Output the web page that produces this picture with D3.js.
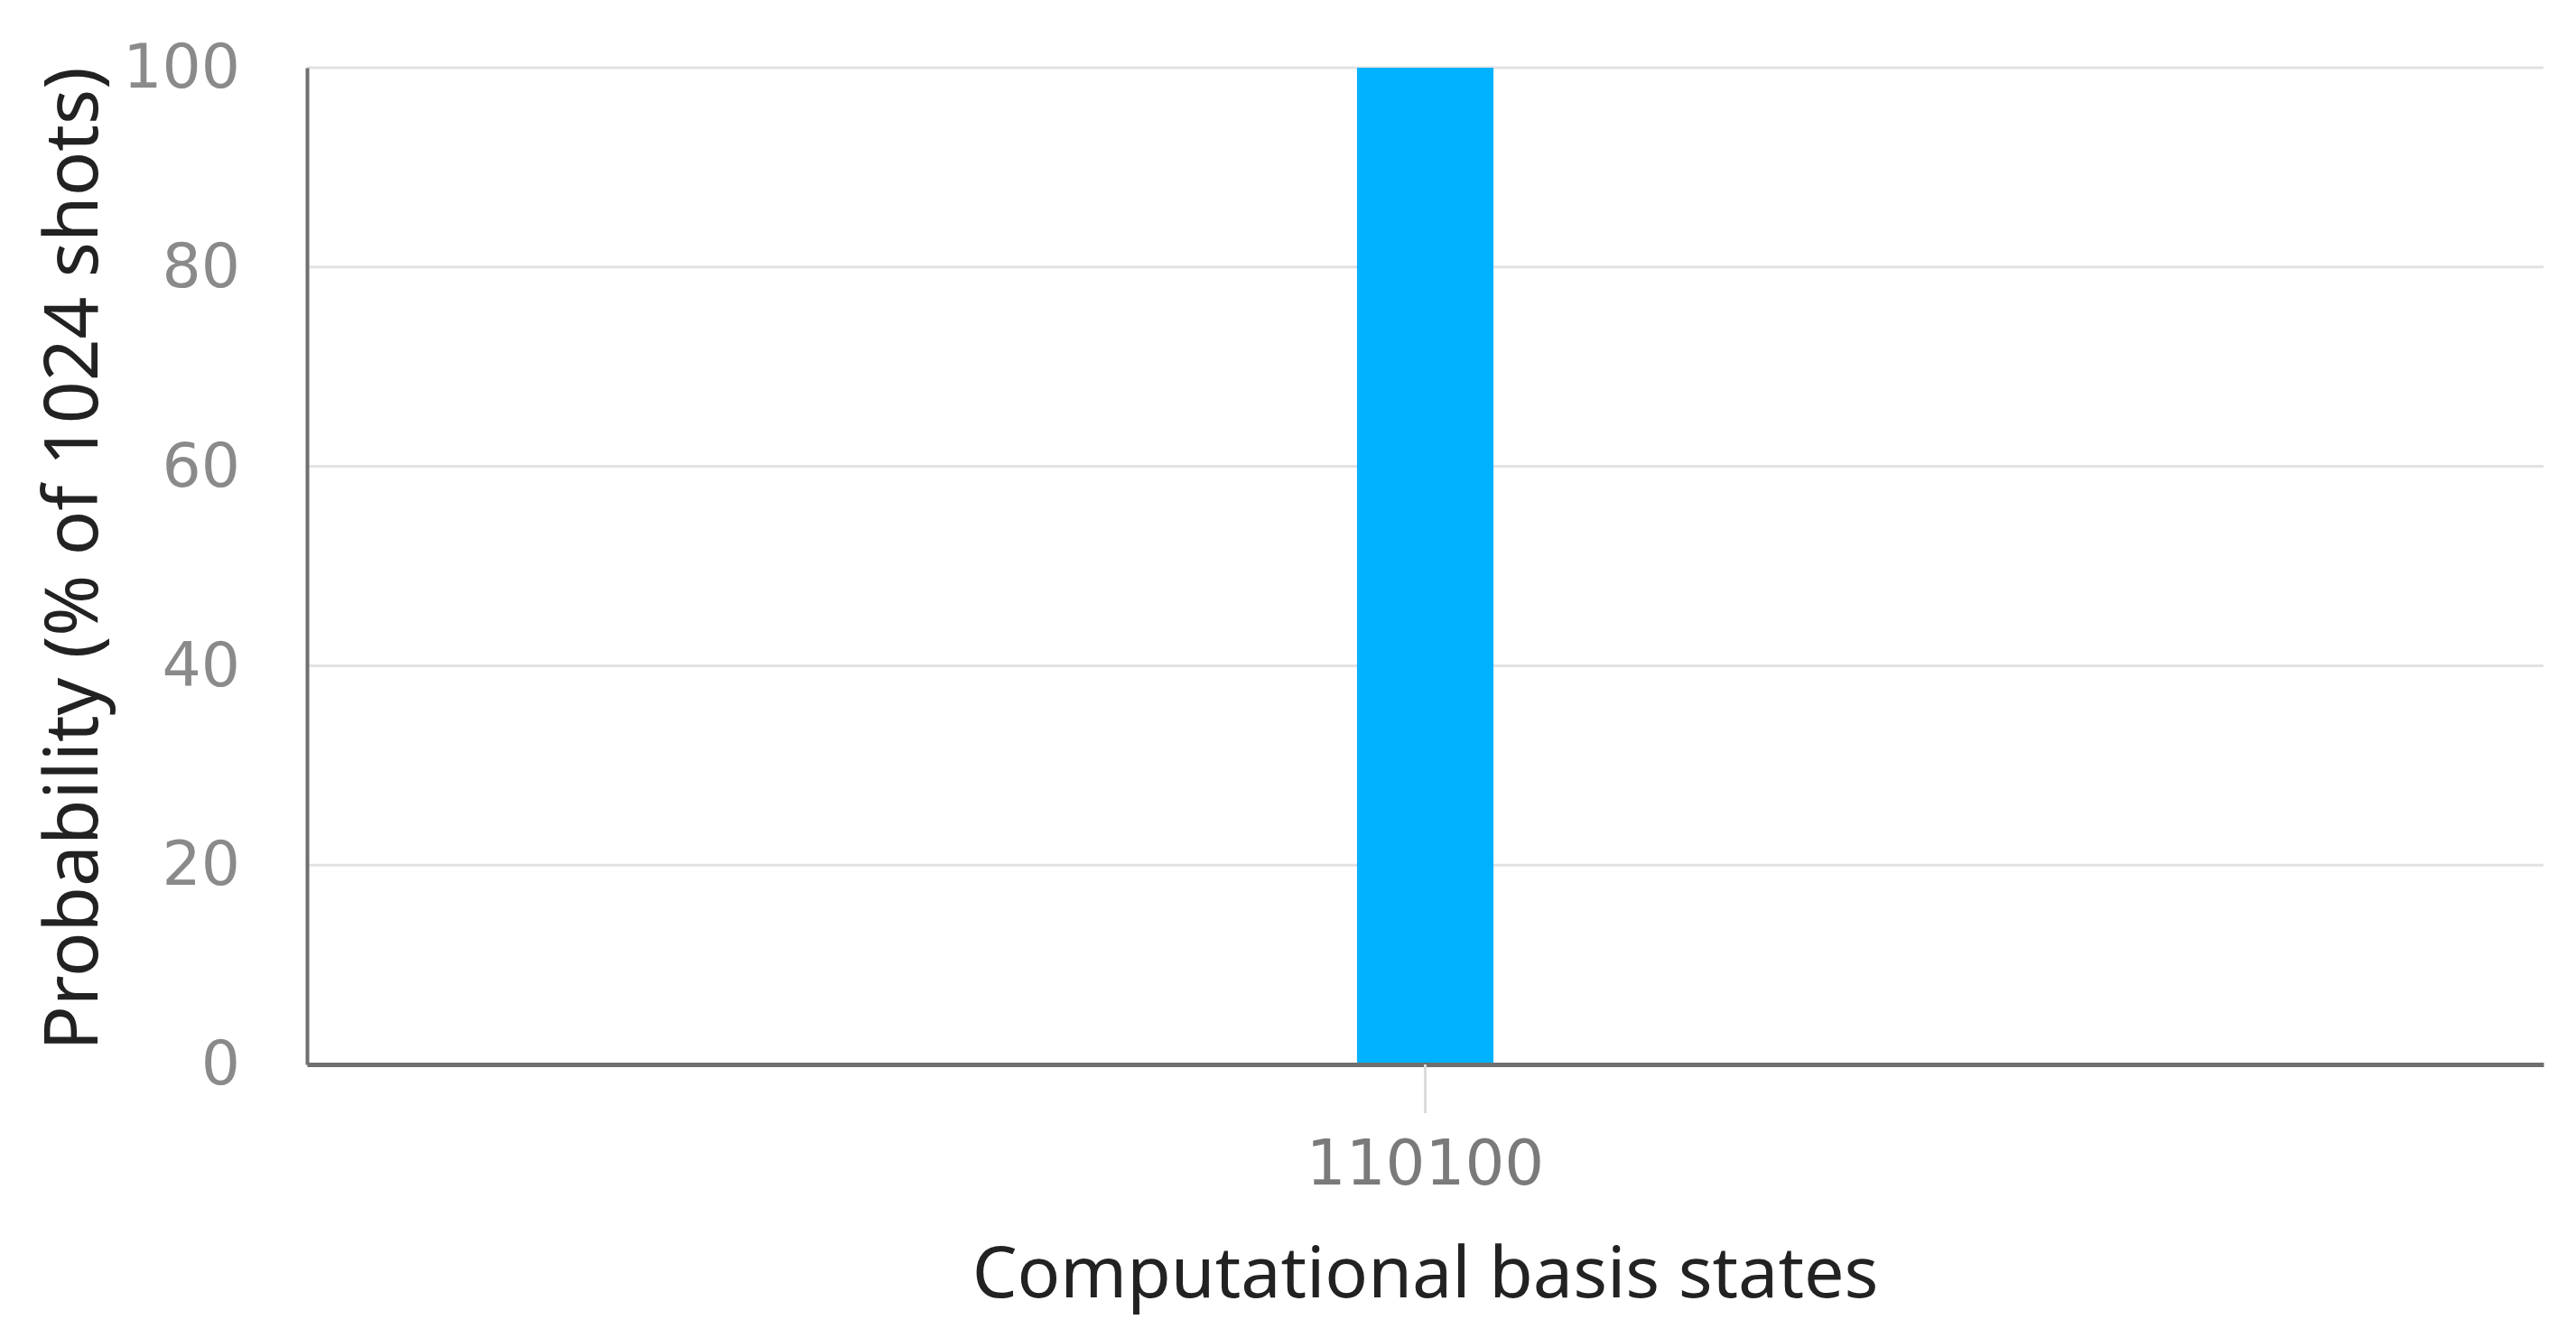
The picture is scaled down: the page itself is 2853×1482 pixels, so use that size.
<!DOCTYPE html>
<html>
<head>
<meta charset="utf-8">
<script src="https://cdn.jsdelivr.net/npm/d3@7"></script>
<style>
  html, body { margin: 0; padding: 0; background: #fff; }
  svg { display: block; font-family: "Noto Sans", "Open Sans", sans-serif; }
</style>
</head>
<body>
<div id="chart"></div>
<script>
'use strict';

// data
const states = ["110100"];
const probs = [100];
const yTicks = [0, 20, 40, 60, 80, 100];
const xTitle = "Computational basis states";
const yTitle = "Probability (% of 1024 shots)";

const width = 2853;
const height = 1482;
const margin = {top: 75, right: 36, bottom: 303, left: 340};

const svg = d3.select("#chart").append("svg")
  .attr("width", width)
  .attr("height", height);

const x = d3.scaleBand()
  .domain(states)
  .range([margin.left, width - margin.right])
  .padding(0.885);

const y = d3.scaleLinear()
  .domain([0, 100])
  .range([height - margin.bottom, margin.top]);

// grid lines
svg.append("g")
  .selectAll("line")
  .data(yTicks.filter(function(d) { return d > 0; }))
  .enter().append("line")
  .attr("x1", margin.left)
  .attr("x2", width - margin.right)
  .attr("y1", function(d) { return y(d); })
  .attr("y2", function(d) { return y(d); })
  .attr("stroke", "#e2e2e2")
  .attr("stroke-width", 3);

// bars
svg.append("g")
  .selectAll("rect")
  .data(states)
  .enter().append("rect")
  .attr("x", function(d) { return x(d); })
  .attr("width", x.bandwidth())
  .attr("y", function(d, i) { return y(probs[i]); })
  .attr("height", function(d, i) { return y(0) - y(probs[i]); })
  .attr("fill", "#00b2ff");

// y axis
const yAxis = svg.append("g")
  .attr("transform", `translate(${margin.left},0)`)
  .call(d3.axisLeft(y).tickValues(yTicks).tickSize(0).tickPadding(74));
yAxis.select(".domain").attr("stroke", "#6f6f6f").attr("stroke-width", 4);
yAxis.selectAll("text")
  .attr("fill", "#8a8a8a")
  .attr("font-size", 68)
  .attr("font-family", "DejaVu Sans");

// x axis
const xAxis = svg.append("g")
  .attr("transform", `translate(0,${y(0)})`)
  .call(d3.axisBottom(x).tickSizeInner(54).tickSizeOuter(0).tickPadding(30));
xAxis.select(".domain").attr("stroke", "#6f6f6f").attr("stroke-width", 5);
xAxis.selectAll(".tick line").attr("stroke", "#dcdcdc").attr("stroke-width", 3);
xAxis.selectAll("text")
  .attr("fill", "#7a7a7a")
  .attr("font-size", 69)
  .attr("font-family", "DejaVu Sans");

// axis titles
svg.append("text")
  .attr("x", x(states[0]) + x.bandwidth() / 2)
  .attr("y", 1437)
  .attr("text-anchor", "middle")
  .attr("font-size", 79)
  .attr("fill", "#222")
  .text(xTitle);

svg.append("text")
  .attr("transform", "translate(108,619) rotate(-90)")
  .attr("text-anchor", "middle")
  .attr("font-size", 82)
  .attr("fill", "#222")
  .text(yTitle);
</script>
</body>
</html>
